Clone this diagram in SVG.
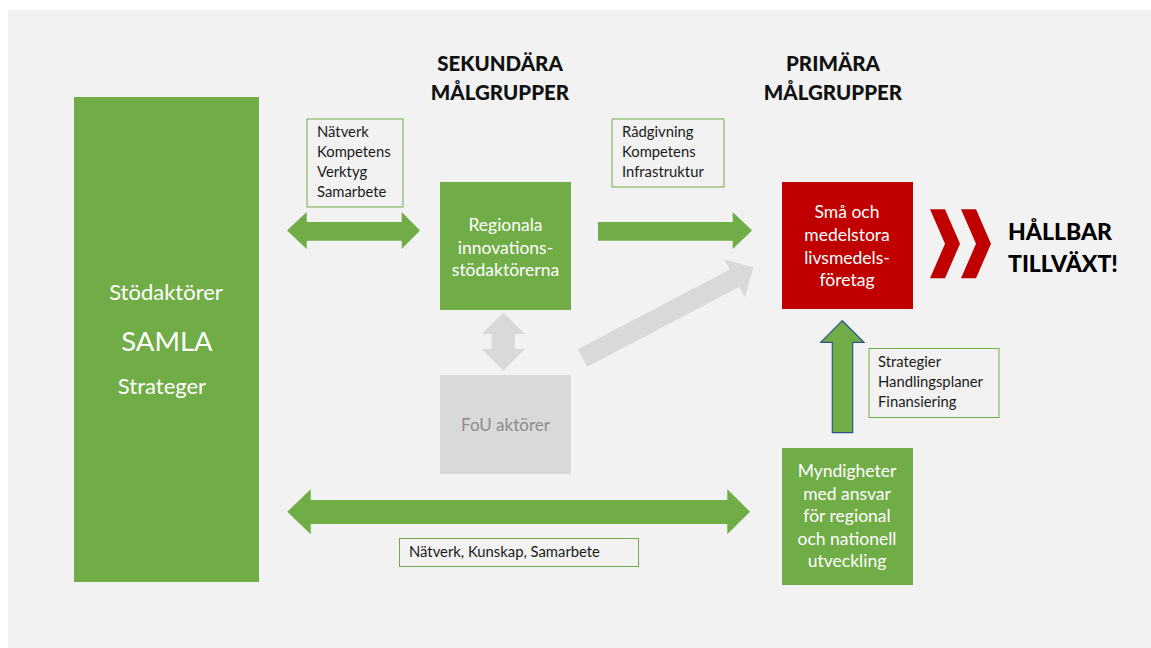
<svg xmlns="http://www.w3.org/2000/svg" width="1151" height="648" viewBox="0 0 1151 648">
<style>
text{font-family:Lato,"Liberation Sans",Arial,sans-serif}
.lbl{fill:none;stroke:#70ad47;stroke-width:1}
.lt{font-size:14.8px;fill:#1a1a1a}
.wt{font-size:17.5px;fill:#ffffff;text-anchor:middle}
.hd{font-size:20.5px;font-weight:900;fill:#111;text-anchor:middle}
.green{fill:#70ad47}
.gray{fill:#d9d9d9}
</style>
<rect x="0" y="0" width="1151" height="648" fill="#ffffff"/>
<rect x="8" y="10" width="1143" height="638" fill="#f2f2f2"/>

<g id="heading-sekundara">
<text class="hd" x="500" y="71">SEKUNDÄRA</text>
<text class="hd" x="500" y="100">MÅLGRUPPER</text>
</g>
<g id="heading-primara">
<text class="hd" x="833" y="71">PRIMÄRA</text>
<text class="hd" x="833" y="100">MÅLGRUPPER</text>
</g>

<g id="stodaktorer">
<rect x="74" y="97" width="185" height="485" class="green"/>
<text x="166" y="300" font-size="22" fill="#fff" text-anchor="middle">Stödaktörer</text>
<text x="167" y="351" font-size="27.5" fill="#fff" text-anchor="middle">SAMLA</text>
<text x="162" y="394" font-size="22" fill="#fff" text-anchor="middle">Strateger</text>
</g>

<g id="regionala">
<rect x="440" y="182" width="131" height="128" class="green"/>
<text class="wt" x="505.5" y="231">Regionala</text>
<text class="wt" x="505.5" y="253.5">innovations-</text>
<text class="wt" x="505.5" y="276">stödaktörerna</text>
</g>

<g id="fou">
<rect x="440" y="375" width="131" height="99" class="gray"/>
<text x="505.5" y="431" font-size="17" fill="#8c8c8c" text-anchor="middle">FoU aktörer</text>
</g>

<g id="smaforetag">
<rect x="782" y="182" width="131" height="127" fill="#c00000"/>
<text class="wt" x="847" y="218">Små och</text>
<text class="wt" x="847" y="241">medelstora</text>
<text class="wt" x="847" y="263.5">livsmedels-</text>
<text class="wt" x="847" y="286">företag</text>
</g>

<g id="myndigheter">
<rect x="782" y="448" width="131" height="137" class="green"/>
<text class="wt" x="847" y="477">Myndigheter</text>
<text class="wt" x="847" y="499.5">med ansvar</text>
<text class="wt" x="847" y="522">för regional</text>
<text class="wt" x="847" y="544.5">och nationell</text>
<text class="wt" x="847" y="567">utveckling</text>
</g>

<g id="hallbar">
<polygon points="930,209.3 945,209.3 960,243.8 945,278.3 930,278.3 945,243.8" fill="#c00000"/>
<polygon points="961,209.3 976,209.3 991,243.8 976,278.3 961,278.3 976,243.8" fill="#c00000"/>
<text x="1008" y="240" font-size="23" font-weight="900" fill="#000">HÅLLBAR</text>
<text x="1008" y="272" font-size="23" font-weight="900" fill="#000">TILLVÄXT!</text>
</g>

<g id="label-natverk">
<rect x="307" y="119" width="96" height="88" class="lbl"/>
<text class="lt" x="317" y="137">Nätverk</text>
<text class="lt" x="317" y="157">Kompetens</text>
<text class="lt" x="317" y="177">Verktyg</text>
<text class="lt" x="317" y="197">Samarbete</text>
</g>

<g id="label-radgivning">
<rect x="612" y="119" width="112" height="68" class="lbl"/>
<text class="lt" x="622" y="137">Rådgivning</text>
<text class="lt" x="622" y="157">Kompetens</text>
<text class="lt" x="622" y="177">Infrastruktur</text>
</g>

<g id="label-strategier">
<rect x="869" y="348.5" width="130" height="69" class="lbl"/>
<text class="lt" x="878" y="367">Strategier</text>
<text class="lt" x="878" y="387">Handlingsplaner</text>
<text class="lt" x="878" y="407">Finansiering</text>
</g>

<g id="label-kunskap">
<rect x="399.5" y="538.5" width="239" height="28" class="lbl"/>
<text class="lt" x="409" y="557">Nätverk, Kunskap, Samarbete</text>
</g>

<g id="connectors">
<polygon class="green" points="287,230.5 306.7,212 306.7,222 401.7,222 401.7,212 420,230.5 401.7,249 401.7,240.7 306.7,240.7 306.7,249"/>
<polygon class="green" points="598,222 732.7,222 732.7,212 752,230.5 732.7,249 732.7,240.7 598,240.7"/>
<polygon class="gray" points="503.3,312.7 525,334 515,334 515,349 525,349 503.3,370.7 481.7,349 491.7,349 491.7,334 481.7,334"/>
<polygon class="gray" points="577.7,349.3 729.8,269.5 724,259.3 753.3,267.3 745,297.3 739.2,287.1 587.3,366.7"/>
<polygon points="842.3,320.7 864,342.3 852.7,342.3 852.7,432.7 832.3,432.7 832.3,342.3 820.7,342.3" fill="#70ad47" stroke="#2f528f" stroke-width="1.2"/>
<polygon class="green" points="287.3,511.7 310.7,489.3 310.7,500 727.3,500 727.3,489.3 750,511.7 727.3,534.3 727.3,524 310.7,524 310.7,534.3"/>
</g>
</svg>
